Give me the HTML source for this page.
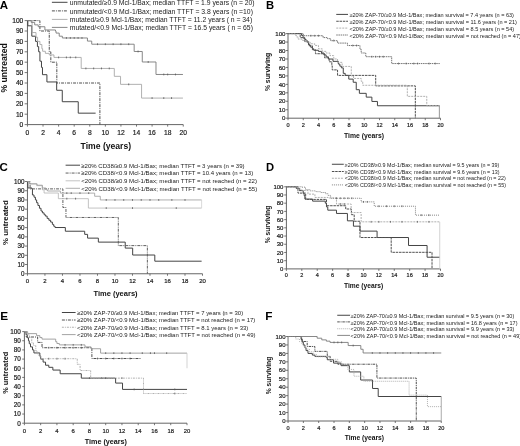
<!DOCTYPE html><html><head><meta charset="utf-8"><style>html,body{margin:0;padding:0;background:#fff;overflow:hidden}svg{display:block;will-change:transform}text{font-family:"Liberation Sans", sans-serif}</style></head><body>
<svg width="520" height="446" viewBox="0 0 520 446">
<g><path d="M27.45 20.1V124.6" stroke="#555" stroke-width="0.9" fill="none"/><path d="M27.45 124.6H183.25" stroke="#555" stroke-width="0.9" fill="none"/><path d="M24.65 124.6H27.45M24.65 114.2H27.45M24.65 103.8H27.45M24.65 93.4H27.45M24.65 83H27.45M24.65 72.6H27.45M24.65 62.2H27.45M24.65 51.8H27.45M24.65 41.4H27.45M24.65 31H27.45M24.65 20.6H27.45M27.45 124.6V126.6M43.03 124.6V126.6M58.61 124.6V126.6M74.19 124.6V126.6M89.77 124.6V126.6M105.35 124.6V126.6M120.93 124.6V126.6M136.51 124.6V126.6M152.09 124.6V126.6M167.67 124.6V126.6M183.25 124.6V126.6" stroke="#555" stroke-width="0.8" fill="none"/><text x="23.35" y="127.01" font-size="6.7" text-anchor="end" fill="#222" stroke="#222" stroke-width="0.2">0</text><text x="23.35" y="116.61" font-size="6.7" text-anchor="end" fill="#222" stroke="#222" stroke-width="0.2">10</text><text x="23.35" y="106.21" font-size="6.7" text-anchor="end" fill="#222" stroke="#222" stroke-width="0.2">20</text><text x="23.35" y="95.81" font-size="6.7" text-anchor="end" fill="#222" stroke="#222" stroke-width="0.2">30</text><text x="23.35" y="85.41" font-size="6.7" text-anchor="end" fill="#222" stroke="#222" stroke-width="0.2">40</text><text x="23.35" y="75.01" font-size="6.7" text-anchor="end" fill="#222" stroke="#222" stroke-width="0.2">50</text><text x="23.35" y="64.61" font-size="6.7" text-anchor="end" fill="#222" stroke="#222" stroke-width="0.2">60</text><text x="23.35" y="54.21" font-size="6.7" text-anchor="end" fill="#222" stroke="#222" stroke-width="0.2">70</text><text x="23.35" y="43.81" font-size="6.7" text-anchor="end" fill="#222" stroke="#222" stroke-width="0.2">80</text><text x="23.35" y="33.41" font-size="6.7" text-anchor="end" fill="#222" stroke="#222" stroke-width="0.2">90</text><text x="23.35" y="23.01" font-size="6.7" text-anchor="end" fill="#222" stroke="#222" stroke-width="0.2">100</text><text x="27.45" y="134.91" font-size="6.7" text-anchor="middle" fill="#222" stroke="#222" stroke-width="0.2">0</text><text x="43.03" y="134.91" font-size="6.7" text-anchor="middle" fill="#222" stroke="#222" stroke-width="0.2">2</text><text x="58.61" y="134.91" font-size="6.7" text-anchor="middle" fill="#222" stroke="#222" stroke-width="0.2">4</text><text x="74.19" y="134.91" font-size="6.7" text-anchor="middle" fill="#222" stroke="#222" stroke-width="0.2">6</text><text x="89.77" y="134.91" font-size="6.7" text-anchor="middle" fill="#222" stroke="#222" stroke-width="0.2">8</text><text x="105.35" y="134.91" font-size="6.7" text-anchor="middle" fill="#222" stroke="#222" stroke-width="0.2">10</text><text x="120.93" y="134.91" font-size="6.7" text-anchor="middle" fill="#222" stroke="#222" stroke-width="0.2">12</text><text x="136.51" y="134.91" font-size="6.7" text-anchor="middle" fill="#222" stroke="#222" stroke-width="0.2">14</text><text x="152.09" y="134.91" font-size="6.7" text-anchor="middle" fill="#222" stroke="#222" stroke-width="0.2">16</text><text x="167.67" y="134.91" font-size="6.7" text-anchor="middle" fill="#222" stroke="#222" stroke-width="0.2">18</text><text x="183.25" y="134.91" font-size="6.7" text-anchor="middle" fill="#222" stroke="#222" stroke-width="0.2">20</text><text transform="translate(6.9 67.9) rotate(-90)" font-size="8.6" font-weight="bold" text-anchor="middle" fill="#111">% untreated</text><text x="80.6" y="148.75" font-size="8.6" font-weight="bold" fill="#111">Time (years)</text><text x="-0.3" y="8.7" font-size="11.5" font-weight="bold" fill="#000">A</text><path d="M51.9 2.3H67.5" stroke="#444" stroke-width="1.0" fill="none"/><text x="69.75" y="5.38" font-size="6.8" fill="#222">unmutated/≥0.9 Mcl-1/Bax; median TTFT = 1.9 years (n = 20)</text><path d="M51.9 10.9H67.5" stroke="#505050" stroke-width="1.0" stroke-dasharray="3,1,1,1" fill="none"/><text x="69.75" y="13.98" font-size="6.8" fill="#222">unmutated/&lt;0.9 Mcl-1/Bax; median TTFT = 3.8 years (n =10)</text><path d="M51.9 19.4H67.5" stroke="#a8a8a8" stroke-width="0.9" fill="none"/><text x="69.75" y="22.48" font-size="6.8" fill="#222">mutated/≥0.9 Mcl-1/Bax; median TTFT = 11.2 years ( n = 34)</text><path d="M51.9 27.4H67.5" stroke="#7a7a7a" stroke-width="0.9" fill="none"/><text x="69.75" y="30.38" font-size="6.8" fill="#222">mutated/&lt;0.9 Mcl-1/Bax; median TTFT = 16.5 years ( n = 65)</text><path d="M27.45 20.6H27.84V25.8H31.81V36.2H35.55V41.4H37.42V46.6H38.67V51.8H39.91V61.16H41.47V67.4H42.48V74.68H46.92V81.96H56.66V90.28H62.27V101.72H78.24V113.16H95.61" stroke="#444" stroke-width="1.0" fill="none"/><path d="M27.45 20.6H39.91V31H49.26V51.8H50.82V62.2H56.82V83H99.9V124.6" stroke="#505050" stroke-width="1.0" stroke-dasharray="3,1,1,1" fill="none"/><path d="M27.45 20.6H32.12V32.56H36.02V37.24H37.58V41.4H39.91V44.52H41.86V48.68H42.64V51.28H45.37V53.36H49.26V54.92H53.94V57.42H81.2V68.44H114.31V76.34H120.54V84.35H141.57V98.08H182.94" stroke="#a8a8a8" stroke-width="0.9" fill="none"/><path d="M58.61 56.52v1.8M66.4 56.52v1.8M70.3 56.52v1.8M75.75 56.52v1.8M85.88 67.54v1.8M93.67 67.54v1.8M101.46 67.54v1.8M109.25 67.54v1.8M128.72 83.45v1.8M152.09 97.18v1.8M163.77 97.18v1.8M171.56 97.18v1.8" stroke="#555" stroke-width="0.8" fill="none"/><path d="M27.45 20.6H31.19V22.37H34.69V24.86H38.2V26.74H44.9V29.96H55.49V31.1H56.04V33.08H59.23V36.2H62.35V37.97H87.43V41.09H91.72V44.21H134.17V51.49H142.27V61.99H155.99V74.47H182.94" stroke="#7a7a7a" stroke-width="0.9" fill="none"/><path d="M66.4 37.07v1.8M70.3 37.07v1.8M74.19 37.07v1.8M78.09 37.07v1.8M81.98 37.07v1.8M97.56 43.31v1.8M105.35 43.31v1.8M113.14 43.31v1.8M120.93 43.31v1.8M128.72 43.31v1.8M138.07 50.59v1.8M148.19 61.09v1.8M163.77 73.57v1.8M167.67 73.57v1.8M175.46 73.57v1.8" stroke="#555" stroke-width="0.8" fill="none"/></g>
<g><path d="M288 33.1V118.2" stroke="#8a8a8a" stroke-width="1.3" fill="none"/><path d="M288 118.2H440.5" stroke="#555" stroke-width="0.9" fill="none"/><path d="M285.8 118.2H288M285.8 109.74H288M285.8 101.28H288M285.8 92.82H288M285.8 84.36H288M285.8 75.9H288M285.8 67.44H288M285.8 58.98H288M285.8 50.52H288M285.8 42.06H288M285.8 33.6H288M288 118.2V120.2M303.25 118.2V120.2M318.5 118.2V120.2M333.75 118.2V120.2M349 118.2V120.2M364.25 118.2V120.2M379.5 118.2V120.2M394.75 118.2V120.2M410 118.2V120.2M425.25 118.2V120.2M440.5 118.2V120.2" stroke="#555" stroke-width="0.8" fill="none"/><text x="285.5" y="120.4" font-size="6.1" text-anchor="end" fill="#222" stroke="#222" stroke-width="0.2">0</text><text x="285.5" y="111.94" font-size="6.1" text-anchor="end" fill="#222" stroke="#222" stroke-width="0.2">10</text><text x="285.5" y="103.48" font-size="6.1" text-anchor="end" fill="#222" stroke="#222" stroke-width="0.2">20</text><text x="285.5" y="95.02" font-size="6.1" text-anchor="end" fill="#222" stroke="#222" stroke-width="0.2">30</text><text x="285.5" y="86.56" font-size="6.1" text-anchor="end" fill="#222" stroke="#222" stroke-width="0.2">40</text><text x="285.5" y="78.1" font-size="6.1" text-anchor="end" fill="#222" stroke="#222" stroke-width="0.2">50</text><text x="285.5" y="69.64" font-size="6.1" text-anchor="end" fill="#222" stroke="#222" stroke-width="0.2">60</text><text x="285.5" y="61.18" font-size="6.1" text-anchor="end" fill="#222" stroke="#222" stroke-width="0.2">70</text><text x="285.5" y="52.72" font-size="6.1" text-anchor="end" fill="#222" stroke="#222" stroke-width="0.2">80</text><text x="285.5" y="44.26" font-size="6.1" text-anchor="end" fill="#222" stroke="#222" stroke-width="0.2">90</text><text x="285.5" y="35.8" font-size="6.1" text-anchor="end" fill="#222" stroke="#222" stroke-width="0.2">100</text><text x="288" y="126.72" font-size="5.6" text-anchor="middle" fill="#222" stroke="#222" stroke-width="0.2">0</text><text x="303.25" y="126.72" font-size="5.6" text-anchor="middle" fill="#222" stroke="#222" stroke-width="0.2">2</text><text x="318.5" y="126.72" font-size="5.6" text-anchor="middle" fill="#222" stroke="#222" stroke-width="0.2">4</text><text x="333.75" y="126.72" font-size="5.6" text-anchor="middle" fill="#222" stroke="#222" stroke-width="0.2">6</text><text x="349" y="126.72" font-size="5.6" text-anchor="middle" fill="#222" stroke="#222" stroke-width="0.2">8</text><text x="364.25" y="126.72" font-size="5.6" text-anchor="middle" fill="#222" stroke="#222" stroke-width="0.2">10</text><text x="379.5" y="126.72" font-size="5.6" text-anchor="middle" fill="#222" stroke="#222" stroke-width="0.2">12</text><text x="394.75" y="126.72" font-size="5.6" text-anchor="middle" fill="#222" stroke="#222" stroke-width="0.2">14</text><text x="410" y="126.72" font-size="5.6" text-anchor="middle" fill="#222" stroke="#222" stroke-width="0.2">16</text><text x="425.25" y="126.72" font-size="5.6" text-anchor="middle" fill="#222" stroke="#222" stroke-width="0.2">18</text><text x="440.5" y="126.72" font-size="5.6" text-anchor="middle" fill="#222" stroke="#222" stroke-width="0.2">20</text><text transform="translate(270.4 72) rotate(-90)" font-size="6.8" font-weight="bold" text-anchor="middle" fill="#111">% surviving</text><text x="344" y="137.6" font-size="6.8" font-weight="bold" fill="#111">Time (years)</text><text x="266" y="8.9" font-size="11.2" font-weight="bold" fill="#000">B</text><path d="M336.25 14.4H348" stroke="#444" stroke-width="1.0" fill="none"/><text x="349.4" y="17.11" font-size="5.55" fill="#222">≥20% ZAP-70/≥0.9 Mcl-1/Bax; median survival = 7.4 years (n = 63)</text><path d="M336.25 21.25H348" stroke="#505050" stroke-width="1.0" stroke-dasharray="2.5,0.8" fill="none"/><text x="349.4" y="23.96" font-size="5.55" fill="#222">≥20% ZAP-70/&lt;0.9 Mcl-1/Bax; median survival = 11.6 years (n = 21)</text><path d="M336.25 28.1H348" stroke="#a8a8a8" stroke-width="0.9" stroke-dasharray="2,1" fill="none"/><text x="349.4" y="30.71" font-size="5.55" fill="#222">&lt;20% ZAP-70/≥0.9 Mcl-1/Bax; median survival = 8.5 years (n = 54)</text><path d="M336.25 35H348" stroke="#666" stroke-width="0.9" stroke-dasharray="1.5,0.7" fill="none"/><text x="349.4" y="37.61" font-size="5.55" fill="#222">&lt;20% ZAP-70/&lt;0.9 Mcl-1/Bax; median survival = not reached (n = 47)</text><path d="M288 33.6H301.57V35.38H303.1V38.08H304.77V39.52H306.15V40.71H307.44V42.48H308.44V44.18H309.73V45.87H310.72V47.22H312.4V48.83H313.85V50.27H318.42V51.37H321.55V52.97H323.84V54.92H326.12V56.87H328.41V59.06H332.99V61.35H338.32V64.06H339.85V66.17H341.38V67.86H343.28V73.36H345.19V75.39H348.77V79.11H353.19V82.25H356.24V89.69H359.37V93.33H366.23V97.13H371.88V101.45H377.44V105.76H439.36" stroke="#444" stroke-width="1.0" fill="none"/><path d="M288 33.6H300.2V37.66H304.77V41.64H308.59V45.7H312.4V49.67H315.45V53.73H324.6V57.8H329.18V61.77H331.84V65.83H332.23V69.89H337.56V75.39H375.69V85.88H415.34V118.2" stroke="#505050" stroke-width="1.0" stroke-dasharray="2.5,0.8" fill="none"/><path d="M288 33.6H295.09V35.29H296.39V36.98H298.14V39.1H302.11V40.37H306.3V42.06H310.11V43.75H314.69V45.44H318.5V48.83H322.31V51.37H326.12V53.06H329.94V55.6H333.75V58.98H337.56V62.36H342.14V66.42H351.29V75.9H353.57V78.44H361.2V81.31H362.73V85.29H407.33V96.37H426.77V105.68H439.74" stroke="#a8a8a8" stroke-width="0.9" stroke-dasharray="2,1" fill="none"/><path d="M288 33.6H303.25V35.72H323.07V37.58H327.57V38.68H330.7V40.71H337.56V43.08H347.48V45.53H359.98V49.25H361.2V52.97H365.77V56.7H391.7V63.55H439.74" stroke="#666" stroke-width="0.9" stroke-dasharray="1.5,0.7" fill="none"/><path d="M310.88 34.82v1.8M314.69 34.82v1.8M318.5 34.82v1.8M333.75 39.64v1.8M352.81 44.63v1.8M356.62 44.63v1.8M371.88 55.8v1.8M375.69 55.8v1.8M379.5 55.8v1.8M383.31 55.8v1.8M398.56 62.65v1.8M406.19 62.65v1.8M413.81 62.65v1.8M417.62 62.65v1.8M429.06 62.65v1.8M435.16 62.65v1.8" stroke="#555" stroke-width="0.8" fill="none"/><path d="M439.36 105.76V118.2" stroke="#8c8c8c" stroke-width="0.9" fill="none"/></g>
<g><path d="M27.45 181V273.75" stroke="#555" stroke-width="0.9" fill="none"/><path d="M27.45 273.75H202.5" stroke="#555" stroke-width="0.9" fill="none"/><path d="M24.95 273.75H27.45M24.95 264.52H27.45M24.95 255.3H27.45M24.95 246.07H27.45M24.95 236.85H27.45M24.95 227.62H27.45M24.95 218.4H27.45M24.95 209.18H27.45M24.95 199.95H27.45M24.95 190.72H27.45M24.95 181.5H27.45M27.45 273.75V275.75M44.95 273.75V275.75M62.46 273.75V275.75M79.97 273.75V275.75M97.47 273.75V275.75M114.98 273.75V275.75M132.48 273.75V275.75M149.99 273.75V275.75M167.49 273.75V275.75M185 273.75V275.75M202.5 273.75V275.75" stroke="#555" stroke-width="0.8" fill="none"/><text x="24.45" y="276.02" font-size="6.3" text-anchor="end" fill="#222" stroke="#222" stroke-width="0.2">0</text><text x="24.45" y="266.79" font-size="6.3" text-anchor="end" fill="#222" stroke="#222" stroke-width="0.2">10</text><text x="24.45" y="257.57" font-size="6.3" text-anchor="end" fill="#222" stroke="#222" stroke-width="0.2">20</text><text x="24.45" y="248.34" font-size="6.3" text-anchor="end" fill="#222" stroke="#222" stroke-width="0.2">30</text><text x="24.45" y="239.12" font-size="6.3" text-anchor="end" fill="#222" stroke="#222" stroke-width="0.2">40</text><text x="24.45" y="229.89" font-size="6.3" text-anchor="end" fill="#222" stroke="#222" stroke-width="0.2">50</text><text x="24.45" y="220.67" font-size="6.3" text-anchor="end" fill="#222" stroke="#222" stroke-width="0.2">60</text><text x="24.45" y="211.44" font-size="6.3" text-anchor="end" fill="#222" stroke="#222" stroke-width="0.2">70</text><text x="24.45" y="202.22" font-size="6.3" text-anchor="end" fill="#222" stroke="#222" stroke-width="0.2">80</text><text x="24.45" y="192.99" font-size="6.3" text-anchor="end" fill="#222" stroke="#222" stroke-width="0.2">90</text><text x="24.45" y="183.77" font-size="6.3" text-anchor="end" fill="#222" stroke="#222" stroke-width="0.2">100</text><text x="27.45" y="283.41" font-size="6" text-anchor="middle" fill="#222" stroke="#222" stroke-width="0.2">0</text><text x="44.95" y="283.41" font-size="6" text-anchor="middle" fill="#222" stroke="#222" stroke-width="0.2">2</text><text x="62.46" y="283.41" font-size="6" text-anchor="middle" fill="#222" stroke="#222" stroke-width="0.2">4</text><text x="79.97" y="283.41" font-size="6" text-anchor="middle" fill="#222" stroke="#222" stroke-width="0.2">6</text><text x="97.47" y="283.41" font-size="6" text-anchor="middle" fill="#222" stroke="#222" stroke-width="0.2">8</text><text x="114.98" y="283.41" font-size="6" text-anchor="middle" fill="#222" stroke="#222" stroke-width="0.2">10</text><text x="132.48" y="283.41" font-size="6" text-anchor="middle" fill="#222" stroke="#222" stroke-width="0.2">12</text><text x="149.99" y="283.41" font-size="6" text-anchor="middle" fill="#222" stroke="#222" stroke-width="0.2">14</text><text x="167.49" y="283.41" font-size="6" text-anchor="middle" fill="#222" stroke="#222" stroke-width="0.2">16</text><text x="185" y="283.41" font-size="6" text-anchor="middle" fill="#222" stroke="#222" stroke-width="0.2">18</text><text x="202.5" y="283.41" font-size="6" text-anchor="middle" fill="#222" stroke="#222" stroke-width="0.2">20</text><text transform="translate(8.2 222.6) rotate(-90)" font-size="7.8" font-weight="bold" text-anchor="middle" fill="#111">% untreated</text><text x="93.5" y="295.6" font-size="7.5" font-weight="bold" fill="#111">Time (years)</text><text x="-0.4" y="170.6" font-size="11.5" font-weight="bold" fill="#000">C</text><path d="M65.6 165.2H80" stroke="#444" stroke-width="1.0" fill="none"/><text x="81.25" y="167.5" font-size="6.05" fill="#222">≥20% CD38/≥0.9 Mcl-1/Bax; median TTFT = 3 years (n = 39)</text><path d="M65.6 173.05H80" stroke="#606060" stroke-width="1.0" stroke-dasharray="3,1,1,1" fill="none"/><text x="81.25" y="175.35" font-size="6.05" fill="#222">≥20% CD38/&lt;0.9 Mcl-1/Bax; median TTFT = 10.4 years (n = 13)</text><path d="M65.6 180.8H80" stroke="#b4b4b4" stroke-width="0.8" fill="none"/><text x="81.25" y="183.1" font-size="6.05" fill="#222">&lt;20% CD38/≥0.9 Mcl-1/Bax; median TTFT = not reached (n = 22)</text><path d="M65.6 188.3H80" stroke="#9a9a9a" stroke-width="0.8" fill="none"/><text x="81.25" y="190.6" font-size="6.05" fill="#222">&lt;20% CD38/&lt;0.9 Mcl-1/Bax; median TTFT = not reached (n = 55)</text><path d="M27.45 181.5H27.89V187.96H31.83V188.88H32.44V194.97H34.01V197.18H35.41V199.95H36.64V202.72H37.95V205.49H39.44V208.25H41.02V211.02H42.42V212.87H44.08V214.71H45.39V216.09H47.14V218.4H48.89V220.25H50.64V222.09H52.39V224.4H53.71V226.24H55.02V227.53H65.35V231.22H84.69V234.36H87.58V238.14H98.35V242.11H125.22V248.1H132.66V255.02H154.8V261.2H201.62" stroke="#444" stroke-width="1.0" fill="none"/><path d="M27.45 181.5H30.08V188.88H62.9V207.51H65.96V217.48H118.3V245.61H147.36V273.75" stroke="#606060" stroke-width="1.0" stroke-dasharray="3,1,1,1" fill="none"/><path d="M27.45 181.5H29.2V183.9H36.64V185.65H42.33V189.8H44.08V193.03H58.35V198.66H88.37V208.07H201.62" stroke="#b4b4b4" stroke-width="0.8" fill="none"/><path d="M66.84 197.76v1.8M75.59 197.76v1.8M106.22 207.17v1.8M132.48 207.17v1.8M176.24 207.17v1.8" stroke="#555" stroke-width="0.8" fill="none"/><path d="M27.45 181.5H29.64V183.81H37.08V185.19H42.33V187.96H45.83V189.8H47.58V191H60.36V193.12H94.67V196.26H100.27V199.95H201.62" stroke="#9a9a9a" stroke-width="0.8" fill="none"/><path d="M66.84 192.22v1.8M71.21 192.22v1.8M79.97 192.22v1.8M88.72 192.22v1.8M106.22 199.05v1.8M114.98 199.05v1.8M123.73 199.05v1.8M132.48 199.05v1.8M141.23 199.05v1.8M149.99 199.05v1.8M158.74 199.05v1.8M171.87 199.05v1.8M185 199.05v1.8" stroke="#555" stroke-width="0.8" fill="none"/><path d="M201.62 199.95V208.07" stroke="#d0d0d0" stroke-width="0.8" fill="none"/></g>
<g><path d="M286.4 186.25V268.9" stroke="#555" stroke-width="0.9" fill="none"/><path d="M286.4 268.9H440.5" stroke="#555" stroke-width="0.9" fill="none"/><path d="M284.2 268.9H286.4M284.2 260.69H286.4M284.2 252.47H286.4M284.2 244.25H286.4M284.2 236.04H286.4M284.2 227.82H286.4M284.2 219.61H286.4M284.2 211.39H286.4M284.2 203.18H286.4M284.2 194.96H286.4M284.2 186.75H286.4M286.4 268.9V270.9M301.81 268.9V270.9M317.22 268.9V270.9M332.63 268.9V270.9M348.04 268.9V270.9M363.45 268.9V270.9M378.86 268.9V270.9M394.27 268.9V270.9M409.68 268.9V270.9M425.09 268.9V270.9M440.5 268.9V270.9" stroke="#555" stroke-width="0.8" fill="none"/><text x="283.4" y="271.06" font-size="6" text-anchor="end" fill="#222" stroke="#222" stroke-width="0.2">0</text><text x="283.4" y="262.85" font-size="6" text-anchor="end" fill="#222" stroke="#222" stroke-width="0.2">10</text><text x="283.4" y="254.63" font-size="6" text-anchor="end" fill="#222" stroke="#222" stroke-width="0.2">20</text><text x="283.4" y="246.41" font-size="6" text-anchor="end" fill="#222" stroke="#222" stroke-width="0.2">30</text><text x="283.4" y="238.2" font-size="6" text-anchor="end" fill="#222" stroke="#222" stroke-width="0.2">40</text><text x="283.4" y="229.98" font-size="6" text-anchor="end" fill="#222" stroke="#222" stroke-width="0.2">50</text><text x="283.4" y="221.77" font-size="6" text-anchor="end" fill="#222" stroke="#222" stroke-width="0.2">60</text><text x="283.4" y="213.55" font-size="6" text-anchor="end" fill="#222" stroke="#222" stroke-width="0.2">70</text><text x="283.4" y="205.34" font-size="6" text-anchor="end" fill="#222" stroke="#222" stroke-width="0.2">80</text><text x="283.4" y="197.12" font-size="6" text-anchor="end" fill="#222" stroke="#222" stroke-width="0.2">90</text><text x="283.4" y="188.91" font-size="6" text-anchor="end" fill="#222" stroke="#222" stroke-width="0.2">100</text><text x="286.4" y="277.08" font-size="5.5" text-anchor="middle" fill="#222" stroke="#222" stroke-width="0.2">0</text><text x="301.81" y="277.08" font-size="5.5" text-anchor="middle" fill="#222" stroke="#222" stroke-width="0.2">2</text><text x="317.22" y="277.08" font-size="5.5" text-anchor="middle" fill="#222" stroke="#222" stroke-width="0.2">4</text><text x="332.63" y="277.08" font-size="5.5" text-anchor="middle" fill="#222" stroke="#222" stroke-width="0.2">6</text><text x="348.04" y="277.08" font-size="5.5" text-anchor="middle" fill="#222" stroke="#222" stroke-width="0.2">8</text><text x="363.45" y="277.08" font-size="5.5" text-anchor="middle" fill="#222" stroke="#222" stroke-width="0.2">10</text><text x="378.86" y="277.08" font-size="5.5" text-anchor="middle" fill="#222" stroke="#222" stroke-width="0.2">12</text><text x="394.27" y="277.08" font-size="5.5" text-anchor="middle" fill="#222" stroke="#222" stroke-width="0.2">14</text><text x="409.68" y="277.08" font-size="5.5" text-anchor="middle" fill="#222" stroke="#222" stroke-width="0.2">16</text><text x="425.09" y="277.08" font-size="5.5" text-anchor="middle" fill="#222" stroke="#222" stroke-width="0.2">18</text><text x="440.5" y="277.08" font-size="5.5" text-anchor="middle" fill="#222" stroke="#222" stroke-width="0.2">20</text><text transform="translate(270.3 224.5) rotate(-90)" font-size="6.7" font-weight="bold" text-anchor="middle" fill="#111">% surviving</text><text x="344" y="287.6" font-size="6.7" font-weight="bold" fill="#111">Time (years)</text><text x="266" y="170.9" font-size="11.2" font-weight="bold" fill="#000">D</text><path d="M331.9 164.25H343.75" stroke="#444" stroke-width="1.0" fill="none"/><text x="344.75" y="166.89" font-size="5.37" fill="#222">≥20% CD38/≥0.9 Mcl-1/Bax; median survival = 9.5 years (n = 39)</text><path d="M331.9 171.5H343.75" stroke="#505050" stroke-width="1.0" stroke-dasharray="2.5,0.8" fill="none"/><text x="344.75" y="173.94" font-size="5.37" fill="#222">≥20% CD38/&lt;0.9 Mcl-1/Bax; median survival = 9.6 years (n = 13)</text><path d="M331.9 178.25H343.75" stroke="#a8a8a8" stroke-width="0.9" stroke-dasharray="2,1" fill="none"/><text x="344.75" y="180.49" font-size="5.37" fill="#222">&lt;20% CD38/≥0.9 Mcl-1/Bax; median survival = not reached (n = 22)</text><path d="M331.9 184.9H343.75" stroke="#777" stroke-width="0.9" stroke-dasharray="1,1" fill="none"/><text x="344.75" y="186.94" font-size="5.37" fill="#222">&lt;20% CD38/&lt;0.9 Mcl-1/Bax; median survival = not reached (n = 55)</text><path d="M286.4 186.75H296.19V188.39H299.5V190.61H303.2V193.16H304.12V195.62H304.89V199.07H312.6V201.13H325.31V203.18H326.47V206.88H327.78V210.16H336.48V213.45H347.42V220.84H353.43V226.18H359.98V231.11H377.09V237.52H408.52V245.49H427.09V257.23H439.73" stroke="#444" stroke-width="1.0" fill="none"/><path d="M286.4 186.75H297.96V193.08H305.66V199.4H326.47V205.73H345.73V209.01H351.43V214.68H354.2V221.25H359.98V237.52H391.19V252.31H432.02V268.9" stroke="#505050" stroke-width="1.0" stroke-dasharray="2.5,0.8" fill="none"/><path d="M286.4 186.75H297.96V189.21H301.81V190.45H307.97V194.14H314.91V197.43H328.01V198H336.48V204H351.12V212.55H361.14V221.83H439.73" stroke="#a8a8a8" stroke-width="0.9" stroke-dasharray="2,1" fill="none"/><path d="M340.33 203.1v1.8M344.19 203.1v1.8M371.15 220.93v1.8M378.86 220.93v1.8M390.42 220.93v1.8M401.98 220.93v1.8M417.38 220.93v1.8M428.94 220.93v1.8" stroke="#555" stroke-width="0.8" fill="none"/><path d="M286.4 186.75H301.81V187.16H305.51V189.63H309.9V190.86H316.14V191.68H321.07V192.5H325.7V193.73H328.01V195.38H330.32V196.94H331.09V198.25H361.14V201.87H374.24V206.22H415.46V215.17H439.73" stroke="#777" stroke-width="0.9" stroke-dasharray="1,1" fill="none"/><path d="M336.48 197.35v1.8M340.33 197.35v1.8M344.19 197.35v1.8M348.04 197.35v1.8M351.89 197.35v1.8M363.45 200.97v1.8M367.3 200.97v1.8M378.86 205.32v1.8M386.56 205.32v1.8M394.27 205.32v1.8M401.98 205.32v1.8M421.24 214.27v1.8M428.94 214.27v1.8" stroke="#555" stroke-width="0.8" fill="none"/><path d="M439.73 221.83V268.9" stroke="#c8c8c8" stroke-width="0.8" fill="none"/></g>
<g><path d="M24.4 331.1V423.2" stroke="#555" stroke-width="0.9" fill="none"/><path d="M24.4 423.2H187" stroke="#555" stroke-width="0.9" fill="none"/><path d="M22.2 423.2H24.4M22.2 414.04H24.4M22.2 404.88H24.4M22.2 395.72H24.4M22.2 386.56H24.4M22.2 377.4H24.4M22.2 368.24H24.4M22.2 359.08H24.4M22.2 349.92H24.4M22.2 340.76H24.4M22.2 331.6H24.4M24.4 423.2V425.2M40.66 423.2V425.2M56.92 423.2V425.2M73.18 423.2V425.2M89.44 423.2V425.2M105.7 423.2V425.2M121.96 423.2V425.2M138.22 423.2V425.2M154.48 423.2V425.2M170.74 423.2V425.2M187 423.2V425.2" stroke="#555" stroke-width="0.8" fill="none"/><text x="20.9" y="425.5" font-size="6.4" text-anchor="end" fill="#222" stroke="#222" stroke-width="0.2">0</text><text x="20.9" y="416.34" font-size="6.4" text-anchor="end" fill="#222" stroke="#222" stroke-width="0.2">10</text><text x="20.9" y="407.18" font-size="6.4" text-anchor="end" fill="#222" stroke="#222" stroke-width="0.2">20</text><text x="20.9" y="398.02" font-size="6.4" text-anchor="end" fill="#222" stroke="#222" stroke-width="0.2">30</text><text x="20.9" y="388.86" font-size="6.4" text-anchor="end" fill="#222" stroke="#222" stroke-width="0.2">40</text><text x="20.9" y="379.7" font-size="6.4" text-anchor="end" fill="#222" stroke="#222" stroke-width="0.2">50</text><text x="20.9" y="370.54" font-size="6.4" text-anchor="end" fill="#222" stroke="#222" stroke-width="0.2">60</text><text x="20.9" y="361.38" font-size="6.4" text-anchor="end" fill="#222" stroke="#222" stroke-width="0.2">70</text><text x="20.9" y="352.22" font-size="6.4" text-anchor="end" fill="#222" stroke="#222" stroke-width="0.2">80</text><text x="20.9" y="343.06" font-size="6.4" text-anchor="end" fill="#222" stroke="#222" stroke-width="0.2">90</text><text x="20.9" y="333.9" font-size="6.4" text-anchor="end" fill="#222" stroke="#222" stroke-width="0.2">100</text><text x="24.4" y="432.52" font-size="5.9" text-anchor="middle" fill="#222" stroke="#222" stroke-width="0.2">0</text><text x="40.66" y="432.52" font-size="5.9" text-anchor="middle" fill="#222" stroke="#222" stroke-width="0.2">2</text><text x="56.92" y="432.52" font-size="5.9" text-anchor="middle" fill="#222" stroke="#222" stroke-width="0.2">4</text><text x="73.18" y="432.52" font-size="5.9" text-anchor="middle" fill="#222" stroke="#222" stroke-width="0.2">6</text><text x="89.44" y="432.52" font-size="5.9" text-anchor="middle" fill="#222" stroke="#222" stroke-width="0.2">8</text><text x="105.7" y="432.52" font-size="5.9" text-anchor="middle" fill="#222" stroke="#222" stroke-width="0.2">10</text><text x="121.96" y="432.52" font-size="5.9" text-anchor="middle" fill="#222" stroke="#222" stroke-width="0.2">12</text><text x="138.22" y="432.52" font-size="5.9" text-anchor="middle" fill="#222" stroke="#222" stroke-width="0.2">14</text><text x="154.48" y="432.52" font-size="5.9" text-anchor="middle" fill="#222" stroke="#222" stroke-width="0.2">16</text><text x="170.74" y="432.52" font-size="5.9" text-anchor="middle" fill="#222" stroke="#222" stroke-width="0.2">18</text><text x="187" y="432.52" font-size="5.9" text-anchor="middle" fill="#222" stroke="#222" stroke-width="0.2">20</text><text transform="translate(7.6 372.8) rotate(-90)" font-size="7.35" font-weight="bold" text-anchor="middle" fill="#111">% untreated</text><text x="84.75" y="443.75" font-size="7.2" font-weight="bold" fill="#111">Time (years)</text><text x="0.3" y="319.7" font-size="11.8" font-weight="bold" fill="#000">E</text><path d="M61.9 312.5H75.6" stroke="#444" stroke-width="1.0" fill="none"/><text x="76.9" y="314.77" font-size="5.98" fill="#222">≥20% ZAP-70/≥0.9 Mcl-1/Bax; median TTFT = 7 years (n = 30)</text><path d="M61.9 320H75.6" stroke="#505050" stroke-width="1.0" stroke-dasharray="3,1,1,1" fill="none"/><text x="76.9" y="322.27" font-size="5.98" fill="#222">≥20% ZAP-70/&lt;0.9 Mcl-1/Bax; median TTFT = not reached (n = 17)</text><path d="M61.9 327.25H75.6" stroke="#a8a8a8" stroke-width="0.9" stroke-dasharray="2,1,1,1" fill="none"/><text x="76.9" y="329.52" font-size="5.98" fill="#222">&lt;20% ZAP-70/≥0.9 Mcl-1/Bax; median TTFT = 8.1 years (n = 33)</text><path d="M61.9 334.6H75.6" stroke="#999" stroke-width="0.9" fill="none"/><text x="76.9" y="336.87" font-size="5.98" fill="#222">&lt;20% ZAP-70/&lt;0.9 Mcl-1/Bax; median TTFT = not reached (n = 49)</text><path d="M24.4 331.6H26.03V334.62H27.25V337.74H28.46V340.76H29.28V343.78H30.5V346.9H32.53V349.92H33.91V352.94H39.85V356.06H40.66V359.08H43.1V362.1H45.54V365.22H48.79V367.32H52.86V370.07H60.17V373.74H81.31V378.13H115.62V383.08H122.53V389.4H187" stroke="#444" stroke-width="1.0" fill="none"/><path d="M89.44 377.23v1.8M101.63 377.23v1.8M134.16 388.5v1.8M174.81 388.5v1.8" stroke="#555" stroke-width="0.8" fill="none"/><path d="M24.4 331.6H26.27V337H37.65V342.41H42.04V347.72H91.88V358.53H141.47" stroke="#505050" stroke-width="1.0" stroke-dasharray="3,1,1,1" fill="none"/><path d="M48.79 346.82v1.8M56.92 346.82v1.8M65.05 346.82v1.8M73.18 346.82v1.8M81.31 346.82v1.8M97.57 357.63v1.8M105.7 357.63v1.8M113.83 357.63v1.8M121.96 357.63v1.8M130.09 357.63v1.8" stroke="#555" stroke-width="0.8" fill="none"/><path d="M24.4 331.6H26.84V334.35H29.28V337.19H31.72V342.68H33.34V345.52H35.78V351.02H37.41V353.77H39.03V356.61H40.66V358.71H77.24V364.3H80.09V370.53H90.66V378.13H143.5V393.52H187" stroke="#a8a8a8" stroke-width="0.9" stroke-dasharray="2,1,1,1" fill="none"/><path d="M48.79 357.81v1.8M56.92 357.81v1.8M65.05 357.81v1.8M105.7 377.23v1.8M121.96 377.23v1.8M174.81 392.62v1.8" stroke="#555" stroke-width="0.8" fill="none"/><path d="M24.4 331.6H27.65V333.62H36.59V335.63H39.85V337.55H42.04V339.11H55.7V341.68H56.92V343.51H59.36V344.88H84.97V346.9H91.07V348.73H100.58V353.13H187" stroke="#999" stroke-width="0.9" fill="none"/><path d="M65.05 343.98v1.8M73.18 343.98v1.8M81.31 343.98v1.8M105.7 352.23v1.8M113.83 352.23v1.8M121.96 352.23v1.8M130.09 352.23v1.8M142.28 352.23v1.8M150.41 352.23v1.8M154.48 352.23v1.8M166.68 352.23v1.8" stroke="#555" stroke-width="0.8" fill="none"/><path d="M187 353.13V368.24" stroke="#c8c8c8" stroke-width="0.8" fill="none"/></g>
<g><path d="M288.05 336V421" stroke="#8a8a8a" stroke-width="1.2" fill="none"/><path d="M288.05 421H441.25" stroke="#555" stroke-width="0.9" fill="none"/><path d="M285.85 421H288.05M285.85 412.55H288.05M285.85 404.1H288.05M285.85 395.65H288.05M285.85 387.2H288.05M285.85 378.75H288.05M285.85 370.3H288.05M285.85 361.85H288.05M285.85 353.4H288.05M285.85 344.95H288.05M285.85 336.5H288.05M288.05 421V423M303.37 421V423M318.69 421V423M334.01 421V423M349.33 421V423M364.65 421V423M379.97 421V423M395.29 421V423M410.61 421V423M425.93 421V423M441.25 421V423" stroke="#555" stroke-width="0.8" fill="none"/><text x="285.55" y="423.16" font-size="6" text-anchor="end" fill="#222" stroke="#222" stroke-width="0.2">0</text><text x="285.55" y="414.71" font-size="6" text-anchor="end" fill="#222" stroke="#222" stroke-width="0.2">10</text><text x="285.55" y="406.26" font-size="6" text-anchor="end" fill="#222" stroke="#222" stroke-width="0.2">20</text><text x="285.55" y="397.81" font-size="6" text-anchor="end" fill="#222" stroke="#222" stroke-width="0.2">30</text><text x="285.55" y="389.36" font-size="6" text-anchor="end" fill="#222" stroke="#222" stroke-width="0.2">40</text><text x="285.55" y="380.91" font-size="6" text-anchor="end" fill="#222" stroke="#222" stroke-width="0.2">50</text><text x="285.55" y="372.46" font-size="6" text-anchor="end" fill="#222" stroke="#222" stroke-width="0.2">60</text><text x="285.55" y="364.01" font-size="6" text-anchor="end" fill="#222" stroke="#222" stroke-width="0.2">70</text><text x="285.55" y="355.56" font-size="6" text-anchor="end" fill="#222" stroke="#222" stroke-width="0.2">80</text><text x="285.55" y="347.11" font-size="6" text-anchor="end" fill="#222" stroke="#222" stroke-width="0.2">90</text><text x="285.55" y="338.66" font-size="6" text-anchor="end" fill="#222" stroke="#222" stroke-width="0.2">100</text><text x="288.05" y="429.62" font-size="5.6" text-anchor="middle" fill="#222" stroke="#222" stroke-width="0.2">0</text><text x="303.37" y="429.62" font-size="5.6" text-anchor="middle" fill="#222" stroke="#222" stroke-width="0.2">2</text><text x="318.69" y="429.62" font-size="5.6" text-anchor="middle" fill="#222" stroke="#222" stroke-width="0.2">4</text><text x="334.01" y="429.62" font-size="5.6" text-anchor="middle" fill="#222" stroke="#222" stroke-width="0.2">6</text><text x="349.33" y="429.62" font-size="5.6" text-anchor="middle" fill="#222" stroke="#222" stroke-width="0.2">8</text><text x="364.65" y="429.62" font-size="5.6" text-anchor="middle" fill="#222" stroke="#222" stroke-width="0.2">10</text><text x="379.97" y="429.62" font-size="5.6" text-anchor="middle" fill="#222" stroke="#222" stroke-width="0.2">12</text><text x="395.29" y="429.62" font-size="5.6" text-anchor="middle" fill="#222" stroke="#222" stroke-width="0.2">14</text><text x="410.61" y="429.62" font-size="5.6" text-anchor="middle" fill="#222" stroke="#222" stroke-width="0.2">16</text><text x="425.93" y="429.62" font-size="5.6" text-anchor="middle" fill="#222" stroke="#222" stroke-width="0.2">18</text><text x="441.25" y="429.62" font-size="5.6" text-anchor="middle" fill="#222" stroke="#222" stroke-width="0.2">20</text><text transform="translate(270.8 375.5) rotate(-90)" font-size="6.7" font-weight="bold" text-anchor="middle" fill="#111">% surviving</text><text x="344.75" y="439.75" font-size="6.7" font-weight="bold" fill="#111">Time (years)</text><text x="265.2" y="319.7" font-size="11.8" font-weight="bold" fill="#000">F</text><path d="M337.25 315.25H350" stroke="#444" stroke-width="1.0" fill="none"/><text x="350.6" y="318.35" font-size="5.52" fill="#222">≥20% ZAP-70/≥0.9 Mcl-1/Bax; median survival = 9.5 years (n = 30)</text><path d="M337.25 321.9H350" stroke="#505050" stroke-width="1.0" stroke-dasharray="2.5,0.8,1,0.8" fill="none"/><text x="350.6" y="324.8" font-size="5.52" fill="#222">≥20% ZAP-70/&lt;0.9 Mcl-1/Bax; median survival = 16.8 years (n = 17)</text><path d="M337.25 328.75H350" stroke="#a8a8a8" stroke-width="0.9" stroke-dasharray="1,1" fill="none"/><text x="350.6" y="331.45" font-size="5.52" fill="#222">&lt;20% ZAP-70/≥0.9 Mcl-1/Bax; median survival = 9.9 years (n = 33)</text><path d="M337.25 335.4H350" stroke="#7a7a7a" stroke-width="0.9" fill="none"/><text x="350.6" y="338" font-size="5.52" fill="#222">&lt;20% ZAP-70/&lt;0.9 Mcl-1/Bax; median survival = not reached (n = 49)</text><path d="M288.05 336.5H301.07V339.29H302.3V342.16H303.37V344.95H304.9V347.74H306.05V350.61H307.97V353.4H312.33V355.09H314.86V356.36H326.04V357.29H327.27V359.74H333.55V363.12H341.06V365.65H349.33V371.91H360.67V380.02H372.54V388.47H378.21V396.5H441.25" stroke="#444" stroke-width="1.0" fill="none"/><path d="M288.05 336.5H301.68V341.49H307.2V346.47H314.86V351.37H327.27V356.36H330.18V361.34H337.84V364.22H376.91V378.07H416.28V421" stroke="#505050" stroke-width="1.0" stroke-dasharray="2.5,0.8,1,0.8" fill="none"/><path d="M288.05 336.5H295.71V339.03H299.54V341.57H301.84V344.11H303.37V346.64H305.67V349.18H309.5V351.71H313.33V354.25H316.39V356.78H329.41V359.31H337.84V361.85H341.67V364.38H347.8V369.45H353.93V376.22H363.88V381.28H409.08V395.14H427.46V406.63H441.25" stroke="#a8a8a8" stroke-width="0.9" stroke-dasharray="1,1" fill="none"/><path d="M288.05 336.5H317.16V338.19H321.75V339.88H326.35V341.15H330.03V342.42H348.18V345.54H360.82V349.26H363.12V352.98H441.25" stroke="#7a7a7a" stroke-width="0.9" fill="none"/><path d="M334.01 341.52v1.8M337.84 341.52v1.8M341.67 341.52v1.8M353.16 344.64v1.8M372.31 352.08v1.8M379.97 352.08v1.8M387.63 352.08v1.8M395.29 352.08v1.8M402.95 352.08v1.8M410.61 352.08v1.8M418.27 352.08v1.8M425.93 352.08v1.8M433.59 352.08v1.8" stroke="#555" stroke-width="0.8" fill="none"/><path d="M441.25 396.5V421" stroke="#a0a0a0" stroke-width="0.9" fill="none"/></g>
</svg></body></html>
